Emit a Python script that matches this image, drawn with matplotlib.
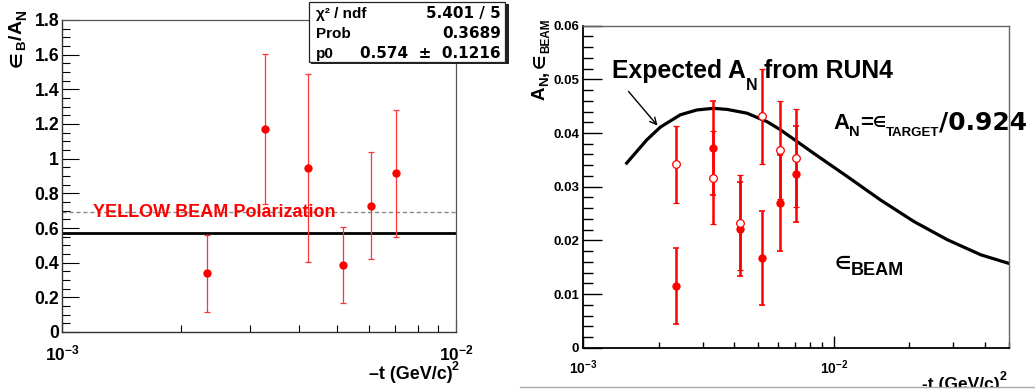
import matplotlib
matplotlib.use("Agg")
import matplotlib.pyplot as plt
from matplotlib.patches import Rectangle
from matplotlib.lines import Line2D
from matplotlib.ticker import FixedLocator, NullFormatter
import matplotlib.transforms as mtransforms
import numpy as np

plt.rcParams['font.family'] = ['Liberation Sans', 'DejaVu Sans']
plt.rcParams['font.weight'] = 'bold'
plt.rcParams['mathtext.default'] = 'regular'

# ---------------- data ----------------
t_bins = [2.34e-3, 3.28e-3, 4.22e-3, 5.16e-3, 6.10e-3, 7.03e-3]

ratio = [0.338, 1.171, 0.947, 0.385, 0.729, 0.916]
ratio_err = [0.224, 0.431, 0.541, 0.218, 0.310, 0.367]
fit_p0 = 0.574
yellow_pol = 0.692

eps_beam = [0.0115, 0.0372, 0.0221, 0.0167, 0.0270, 0.0324]
eps_beam_err = [0.0071, 0.0088, 0.0088, 0.0087, 0.0090, 0.0090]
an_target = [0.0342, 0.0317, 0.0233, 0.0431, 0.0368, 0.0353]
an_target_err = [0.0072, 0.0087, 0.0089, 0.0088, 0.0091, 0.0091]

curve_t = [1.49e-3, 1.79e-3, 2.03e-3, 2.44e-3, 2.84e-3, 3.31e-3, 3.75e-3, 4.50e-3,
           5.42e-3, 6.12e-3, 7.14e-3, 8.32e-3, 1.131e-2, 1.538e-2, 2.089e-2,
           2.842e-2, 3.863e-2, 5.0e-2]
curve_an = [0.0344, 0.0387, 0.0411, 0.0434, 0.0443, 0.0446, 0.0444, 0.0437,
            0.0421, 0.0406, 0.0384, 0.0362, 0.0319, 0.0275, 0.0235,
            0.0201, 0.0173, 0.0157]

left_yticks = [0, 0.2, 0.4, 0.6, 0.8, 1.0, 1.2, 1.4, 1.6, 1.8]
left_yticklabels = ['0', '0.2', '0.4', '0.6', '0.8', '1', '1.2', '1.4', '1.6', '1.8']
right_yticks = [0, 0.01, 0.02, 0.03, 0.04, 0.05, 0.06]
right_yticklabels = ['0', '0.01', '0.02', '0.03', '0.04', '0.05', '0.06']
x_ticklabels = [r'$10^{-3}$', r'$10^{-2}$']

stats_names = ['χ² / ndf', 'Prob', 'p0']
stats_values = ['5.401 / 5', '0.3689', '0.574  ±  0.1216']

# ---------------- figure ----------------
W, H = 1035, 392
fig = plt.figure(figsize=(W / 100, H / 100), dpi=100)
renderer = fig.canvas.get_renderer()

LIB = ['Liberation Sans', 'DejaVu Sans']
DJV = ['DejaVu Sans']


def fx(px):
    return px / W


def fy(py):
    return 1 - py / H


def rich(x, y, pieces, rot=0, color='black', zorder=5):
    """pieces: (text, size, drop_px, gap_after_px, family)"""
    cx, cy = x, y
    for txt, size, dy, gap, fam in pieces:
        if rot == 0:
            t = fig.text(fx(cx), fy(cy + dy), txt, fontsize=size, fontweight='bold',
                         family=fam, ha='left', va='baseline', color=color, zorder=zorder)
            cx += t.get_window_extent(renderer).width + gap
        else:
            t = fig.text(fx(cx + dy), fy(cy), txt, fontsize=size, fontweight='bold',
                         family=fam, rotation=90, rotation_mode='anchor',
                         ha='left', va='baseline', color=color, zorder=zorder)
            cy -= t.get_window_extent(renderer).height + gap


RED = '#ff0000'

# ---------- left panel ----------
axL = fig.add_axes([fx(62), fy(332), fx(456) - fx(62), fy(20) - fy(332)])
axL.set_xscale('log')
axL.set_xlim(1e-3, 1e-2)
axL.set_ylim(0, 1.8)

axL.axhline(yellow_pol, color='#888888', lw=1.0, ls=(0, (3, 2)), zorder=1)
axL.axhline(fit_p0, color='black', lw=2.0, zorder=2)
axL.errorbar(t_bins, ratio, yerr=ratio_err, fmt='o', color=RED, ecolor='#ff3333',
             ms=5, elinewidth=0.9, capsize=2, capthick=0.9, zorder=3)
axL.text(fx(93), yellow_pol, 'YELLOW BEAM Polarization', color=RED, fontsize=13,
         fontweight='bold', va='center', ha='left',
         transform=mtransforms.blended_transform_factory(fig.transFigure, axL.transData),
         zorder=4)

axL.set_yticks(left_yticks)
axL.set_yticklabels(left_yticklabels)
axL.yaxis.set_minor_locator(FixedLocator(np.arange(0, 1.801, 0.05)))
axL.xaxis.set_major_locator(FixedLocator([1e-3, 1e-2]))
axL.set_xticklabels(x_ticklabels)
axL.xaxis.set_minor_locator(FixedLocator([k * 1e-3 for k in range(2, 10)]))
axL.xaxis.set_minor_formatter(NullFormatter())
axL.tick_params(axis='y', which='major', direction='in', length=12, width=0.8,
                labelsize=12.7, pad=2, right=False)
axL.tick_params(axis='y', which='minor', direction='in', length=6, width=0.8, right=False)
axL.tick_params(axis='x', which='major', direction='in', length=8, width=0.8,
                labelsize=12.5, pad=8, top=False)
axL.tick_params(axis='x', which='minor', direction='in', length=5, width=0.8, top=False)
for s in ['left', 'bottom']:
    axL.spines[s].set_color('#333333')
    axL.spines[s].set_linewidth(1.0)
for s in ['top', 'right']:
    axL.spines[s].set_color('#555555')
    axL.spines[s].set_linewidth(0.9)

# y title  (eps_B / A_N), reading bottom to top
rich(22, 67, [('∈', 12.5, 0, 1, DJV), ('B', 9.5, 3, 1, LIB), ('/', 14, 0, 0, LIB),
              ('A', 14, 0, 0, LIB), ('N', 10, 4, 0, LIB)], rot=90)
# x title
fig.text(fx(453), fy(379), '–t (GeV/c)', ha='right', va='baseline',
         fontsize=13, fontweight='bold', family=LIB)
fig.text(fx(452), fy(370), '2', ha='left', va='baseline',
         fontsize=9, fontweight='bold', family=LIB)

# stats box
fig.add_artist(Rectangle((fx(311), fy(64)), fx(507) - fx(309), fy(2) - fy(62),
                         transform=fig.transFigure, facecolor='#222222',
                         edgecolor='none', zorder=5))
fig.add_artist(Rectangle((fx(309), fy(62)), fx(505) - fx(309), fy(2) - fy(62),
                         transform=fig.transFigure, facecolor='white',
                         edgecolor='#222222', lw=0.9, zorder=6))
for i, (n, v) in enumerate(zip(stats_names, stats_values)):
    yy = 18 + 20 * i
    fig.text(fx(316), fy(yy), n, ha='left', va='baseline', fontsize=11,
             fontweight='bold', family=LIB, zorder=7)
    fig.text(fx(501), fy(yy), v, ha='right', va='baseline', fontsize=11,
             fontweight='bold', family=DJV, zorder=7)

# ---------- right panel ----------
axR = fig.add_axes([fx(583.3), fy(347.7), fx(1009) - fx(583.3), fy(25.7) - fy(347.7)])
axR.set_xscale('log')
axR.set_xlim(1e-3, 5e-2)
axR.set_ylim(0, 0.06)

axR.plot(curve_t, curve_an, color='black', lw=2.3, zorder=2,
         solid_joinstyle='round')
axR.errorbar(t_bins, eps_beam, yerr=eps_beam_err, fmt='o', color=RED, ecolor=RED,
             ms=5, elinewidth=1.8, capsize=2, capthick=1.2, zorder=3)
axR.errorbar(t_bins, an_target, yerr=an_target_err, fmt='o', color=RED, ecolor=RED,
             mfc='white', mec=RED, mew=0.9, ms=5.5, elinewidth=1.8, capsize=2,
             capthick=1.2, zorder=4)

axR.set_yticks(right_yticks)
axR.set_yticklabels(right_yticklabels)
axR.yaxis.set_minor_locator(FixedLocator(np.arange(0, 0.0601, 0.002)))
axR.xaxis.set_major_locator(FixedLocator([1e-3, 1e-2]))
axR.set_xticklabels(x_ticklabels)
axR.xaxis.set_minor_locator(FixedLocator([k * 1e-3 for k in range(2, 10)] +
                                         [k * 1e-2 for k in range(2, 6)]))
axR.xaxis.set_minor_formatter(NullFormatter())
axR.tick_params(axis='y', which='major', direction='in', length=14, width=1.0,
                labelsize=9.5, pad=3, right=False)
axR.tick_params(axis='y', which='minor', direction='in', length=7, width=1.0, right=False)
axR.tick_params(axis='x', which='major', direction='in', length=9, width=1.0,
                labelsize=10, pad=8, top=False)
axR.tick_params(axis='x', which='minor', direction='in', length=4.5, width=1.0, top=False)
for s in ['left', 'bottom']:
    axR.spines[s].set_color('black')
    axR.spines[s].set_linewidth(1.3)
for s in ['top', 'right']:
    axR.spines[s].set_color('#666666')
    axR.spines[s].set_linewidth(1.0)

# y title  (A_N, eps_BEAM)
rich(545, 100, [('A', 13.5, 0, 0, LIB), ('N', 9.5, 3, 1, LIB), (',', 13.5, 1, 3, LIB),
                ('∈', 11.5, 0, 0, DJV), ('BEAM', 8.5, 4, 0, LIB)], rot=90)

rich(612, 78, [('Expected A', 17.8, 0, 0, LIB), ('N', 11.5, 12, 7, LIB),
               ('from RUN4', 17.8, 0, 0, LIB)])
rich(833, 129, [('A', 16, 0, 0, LIB), ('N', 10.5, 7, 0, LIB), ('=', 16, 0, 0, LIB),
                ('∈', 10.5, -2, 0, DJV), ('TARGET', 9.5, 7, 0, LIB),
                ('/0.924', 18, 0, 0, DJV)])
rich(835, 275, [('∈', 13, -6, 0, DJV), ('BEAM', 13, 0, 0, LIB)])

axR.annotate('', xy=(fx(659.3), fy(127.7)), xycoords='figure fraction',
             xytext=(fx(626.7), fy(89.3)), textcoords='figure fraction',
             arrowprops=dict(arrowstyle='->', color='black', lw=1.0,
                             mutation_scale=12))
fig.text(fx(1000), fy(389), '-t (GeV/c)', ha='right', va='baseline',
         fontsize=12.5, fontweight='bold', family=LIB)
fig.text(fx(1000), fy(380), '2', ha='left', va='baseline',
         fontsize=9, fontweight='bold', family=LIB)

# bottom border of right picture (clips the x title like the original)
fig.add_artist(Rectangle((fx(520), 0), 1 - fx(520), fy(387.5), transform=fig.transFigure,
                         facecolor='white', edgecolor='none', zorder=10))
fig.add_artist(Line2D([fx(520), 1], [fy(387), fy(387)], transform=fig.transFigure,
                      color='#aaaaaa', lw=1.0, zorder=11))

fig.savefig('out.png', dpi=100)
